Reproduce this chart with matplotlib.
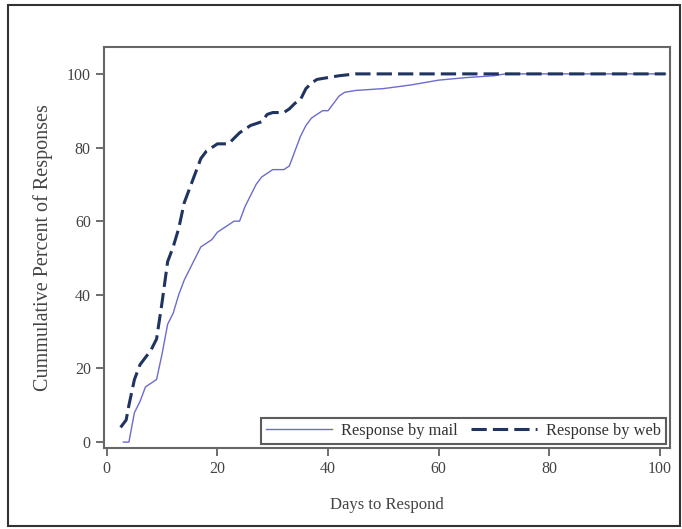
import matplotlib
matplotlib.use("Agg")
import matplotlib.pyplot as plt
from matplotlib.patches import Rectangle

mail_days = [3, 4, 5, 6, 7, 8, 9, 10, 11, 12, 13, 14, 15, 16, 17, 18, 19, 20, 21, 22, 23, 24,
             25, 26, 27, 28, 29, 30, 31, 32, 33, 34, 35, 36, 37, 38, 39, 40, 41, 42, 43, 45,
             50, 55, 60, 65, 70, 72, 101]
mail_pct = [0, 0, 8, 11, 15, 16, 17, 24, 32, 35, 40, 44, 47, 50, 53, 54, 55, 57, 58, 59, 60, 60,
            64, 67, 70, 72, 73, 74, 74, 74, 75, 79, 83, 86, 88, 89, 90, 90, 92, 94, 95, 95.5,
            96, 97, 98.3, 99, 99.5, 100, 100]

web_days = [2.5, 3.5, 4, 5, 6, 7, 8, 9, 10, 11, 12, 13, 14, 15, 16, 17, 18, 19, 20, 22, 24, 25,
            26, 27, 28, 29, 30, 32, 33, 34, 35, 36, 37, 38, 40, 42, 45, 101]
web_pct = [4, 6, 10, 17, 21, 23, 25, 28, 38, 49, 53, 58, 65, 69, 73, 77, 79, 80, 81, 81, 84, 85,
           86, 86.5, 87, 89, 89.5, 89.5, 90.5, 92, 93, 96, 97.5, 98.5, 99, 99.5, 100, 100]

x_ticks = [0, 20, 40, 60, 80, 100]
y_ticks = [0, 20, 40, 60, 80, 100]

plt.rcParams['font.family'] = ['Liberation Serif', 'DejaVu Serif']
W, H = 682, 529
fig = plt.figure(figsize=(W / 100, H / 100), dpi=100)
fig.patches.append(Rectangle((8 / W, 1 - 526 / H), 672 / W, 521 / H, transform=fig.transFigure,
                             fill=False, edgecolor='#333333', linewidth=1.5))

ax = fig.add_axes([104 / W, 1 - 448 / H, (670 - 104) / W, (448 - 47) / H])
ax.plot(mail_days, mail_pct, color='#6b6bd0', linewidth=1.0, label='Response by mail')
ax.plot(web_days, web_pct, color='#1f3460', linewidth=2.2, linestyle=(0, (5, 2)),
        label='Response by web')

ax.set_xlim(-0.5, 101.8)
ax.set_ylim(-1.6, 107.3)
ax.set_xticks(x_ticks)
ax.set_yticks(y_ticks)
ax.tick_params(colors='#555555', labelsize=11.5, length=6, width=1.2)
for lbl in ax.get_xticklabels() + ax.get_yticklabels():
    lbl.set_color('#444444')
for s in ax.spines.values():
    s.set_color('#666666')
    s.set_linewidth(1.5)
ax.set_xlabel('Days to Respond', fontsize=12, color='#444444', labelpad=14)
ax.set_ylabel('Cummulative Percent of Responses', fontsize=14.5, color='#444444', labelpad=10)

leg = ax.legend(loc='lower right', ncol=2, frameon=True, fancybox=False, fontsize=11.8,
                borderpad=0.3, handlelength=4.0, columnspacing=0.85, handletextpad=0.55,
                borderaxespad=0.25)
leg.get_frame().set_edgecolor('#333333')
leg.get_frame().set_linewidth(1.5)
for t in leg.get_texts():
    t.set_color('#333333')

fig.savefig('out.png', dpi=100)
